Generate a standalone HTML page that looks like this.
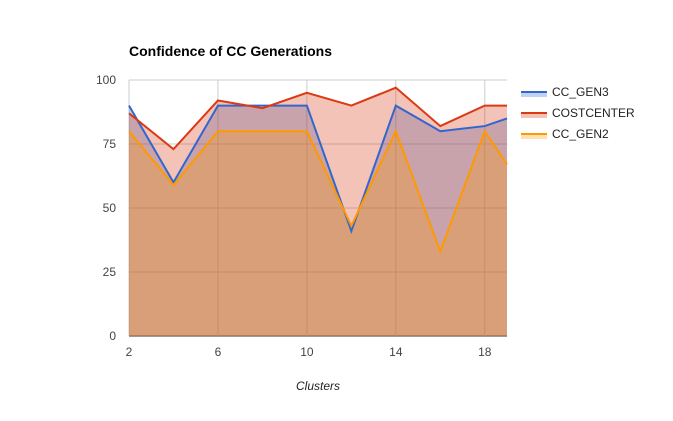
<!DOCTYPE html>
<html><head><meta charset="utf-8"><style>
body{margin:0;background:#fff;font-family:"Liberation Sans",Arial,sans-serif}
svg text{font-family:"Liberation Sans",Arial,sans-serif}
</style></head><body>
<svg id="chart" width="673" height="416">
<text x="129" y="56" font-size="14" font-weight="bold" fill="#000">Confidence of CC Generations</text>
<g id="grid"></g>
<g id="areas"></g>
<g id="lines"></g>
<g id="axes"></g>
<text x="318" y="390" font-size="12" font-style="italic" fill="#222" text-anchor="middle">Clusters</text>
<g id="legend"></g>
</svg>
<script>
const xs = [2,4,6,8,10,12,14,16,18,19];
const seriesNames = ["CC_GEN3","COSTCENTER","CC_GEN2"];
const gen3 = [90,60,90,90,90,41,90,80,82,85];
const costcenter = [87,73,92,89,95,90,97,82,90,90];
const gen2 = [80,59,80,80,80,43,80,33,80,67];
const xTicks = [2,6,10,14,18];
const yTicks = [0,25,50,75,100];
const colors = ["#3366cc","#dc3912","#ff9900"];
const L=129,R=507,T=80,B=336;
const xS=v=>L+(v-2)/(19-2)*(R-L);
const yS=v=>B-v/100*(B-T);
const NS="http://www.w3.org/2000/svg";
function mk(tag,attrs,parent){const e=document.createElementNS(NS,tag);for(const k in attrs)e.setAttribute(k,attrs[k]);parent.appendChild(e);return e;}
const grid=document.getElementById('grid'),axes=document.getElementById('axes');
yTicks.forEach(t=>{
  const l=mk('line',{x1:L,x2:R,y1:yS(t),y2:yS(t),stroke:t===0?'#333':'#ccc','stroke-width':1},grid);
  
  
  const tx=mk('text',{x:L-13,y:yS(t)+4,'font-size':12,fill:'#444','text-anchor':'end'},axes);
  tx.textContent=t;
  
  
});
xTicks.forEach(t=>{
  const l=mk('line',{x1:xS(t),x2:xS(t),y1:T,y2:B,stroke:'#ccc','stroke-width':1},grid);
  
  
  const tx=mk('text',{x:xS(t),y:B+20,'font-size':12,fill:'#444','text-anchor':'middle'},axes);
  tx.textContent=t;
  
  
});
const data=[gen3,costcenter,gen2];
const areas=document.getElementById('areas'),lines=document.getElementById('lines');
data.forEach((s,i)=>{
  const pts=s.map((v,j)=>xS(xs[j])+','+yS(v));
  const a=mk('polygon',{points:xS(xs[0])+','+B+' '+pts.join(' ')+' '+xS(xs[xs.length-1])+','+B,fill:colors[i],'fill-opacity':0.3},areas);
  
  
  const p=mk('polyline',{points:pts.join(' '),fill:'none',stroke:colors[i],'stroke-width':2},lines);
  
  
});
const lg=document.getElementById('legend');
seriesNames.forEach((n,i)=>{
  const y=91+i*21;
  const r=mk('rect',{x:521,y:y,width:26,height:6,fill:colors[i],'fill-opacity':0.3},lg);
  
  
  const l=mk('line',{x1:521,x2:547,y1:y+1,y2:y+1,stroke:colors[i],'stroke-width':2},lg);
  
  
  const t=mk('text',{x:552,y:y+5,'font-size':12,fill:'#222'},lg);
  t.textContent=n;
  
  
});
</script>
</body></html>
